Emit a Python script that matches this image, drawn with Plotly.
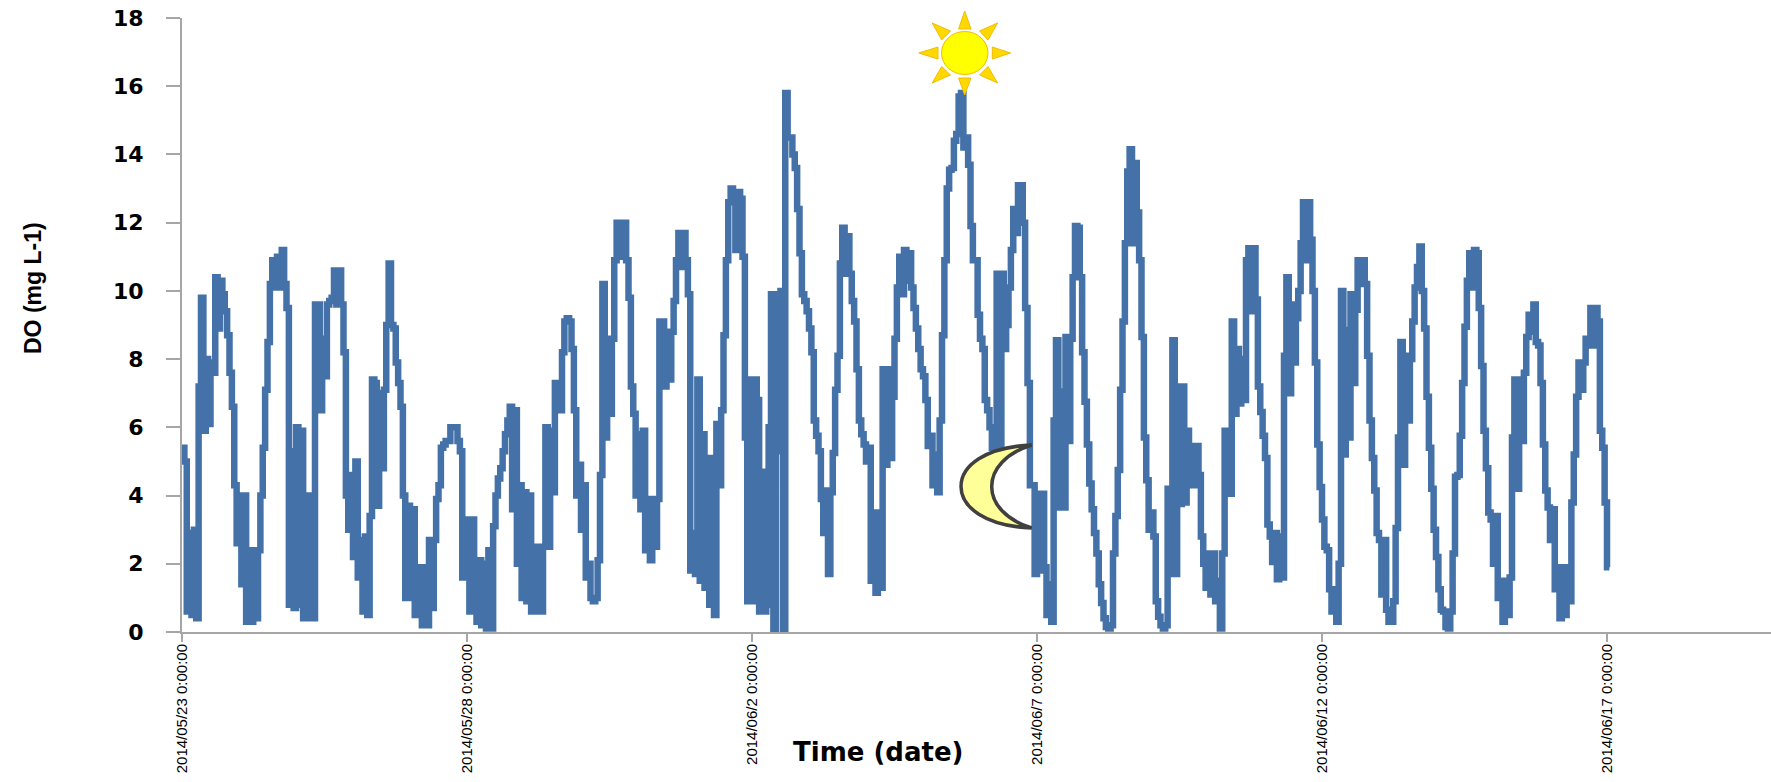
import pandas as pd
import plotly.graph_objects as go

# Dissolved oxygen, one value per hour, one list per day
do_0523 = [5.4,5.0,0.6,2.9,0.5,3.0,0.4,7.2,9.8,5.9,8.0,6.1,7.9,7.6,10.4,8.9,10.3,9.9,9.4,8.7,7.6,6.6,4.3,2.6]
do_0524 = [4.0,1.4,4.0,0.3,2.4,0.3,2.4,0.4,2.4,4.0,5.4,7.1,8.5,10.2,10.9,10.1,11.0,10.1,11.2,10.2,9.5,0.8,5.3,0.7]
do_0525 = [6.0,0.8,5.9,0.4,4.0,0.4,4.0,0.4,9.6,9.6,6.5,8.6,7.5,9.6,9.7,9.8,10.6,9.6,10.6,9.6,8.2,4.0,3.0,4.6]
do_0526 = [2.2,5.0,1.6,2.7,0.6,2.8,0.5,3.4,7.4,7.3,3.7,7.0,4.8,7.1,9.0,10.8,9.0,8.9,7.9,7.3,6.6,4.0,1.0,3.7]
do_0527 = [1.0,3.6,0.5,1.8,1.9,0.2,1.9,0.2,2.7,0.7,2.7,3.9,4.3,5.4,5.5,5.6,5.6,6.0,6.0,6.0,5.6,5.3,1.6,3.0]
do_0528 = [3.3,0.6,3.3,2.1,0.3,2.1,0.2,2.0,0.1,2.4,0.1,3.1,4.0,4.5,4.8,5.3,5.8,6.2,6.6,3.6,6.5,2.0,4.3,1.0]
do_0529 = [4.1,0.9,4.0,0.6,2.5,0.6,2.5,0.6,2.5,6.0,2.5,5.9,4.1,7.3,7.3,6.5,8.2,9.1,9.2,9.1,8.3,6.5,4.0,4.9]
do_0530 = [3.0,4.3,1.6,2.0,1.0,0.9,1.0,2.1,4.6,10.2,5.7,8.6,6.4,8.6,10.9,12.0,11.0,12.0,12.0,10.9,9.8,7.2,6.4,4.0]
do_0531 = [5.8,3.6,5.9,2.4,3.9,2.1,3.9,2.5,3.9,9.1,9.1,7.2,8.8,7.4,8.8,9.7,10.9,11.7,10.7,11.7,10.9,9.9,1.8,2.9]
do_0601 = [1.7,7.4,1.5,5.8,1.3,5.1,0.8,5.1,0.5,6.1,4.3,6.5,8.7,10.9,12.6,13.0,12.9,11.2,12.9,12.7,11.0,5.7,0.9,7.4]
do_0602 = [0.9,7.4,6.8,0.6,4.7,0.6,0.8,6.0,9.9,0.0,9.9,5.3,10.0,0.0,15.8,14.5,14.5,14.0,13.6,12.4,11.1,9.9,9.7,9.4]
do_0603 = [8.9,8.2,6.2,5.75,5.3,3.9,2.9,4.15,1.7,4.1,5.25,7.1,8.1,10.8,11.85,10.5,11.6,10.5,9.7,9.1,7.7,6.2,5.8,5.5]
do_0604 = [5.0,5.4,1.5,3.5,1.15,3.5,1.3,7.7,4.9,7.7,5.1,6.9,8.6,10.1,11.0,9.9,11.2,10.3,11.1,10.1,9.5,8.9,8.3,7.7]
do_0605 = [7.5,6.8,5.45,5.75,4.3,5.2,4.1,6.2,8.7,10.9,13.0,13.55,13.6,14.4,14.6,15.7,15.8,14.2,14.5,13.7,11.9,10.9,10.9,9.3]
do_0606 = [8.6,8.3,6.8,6.5,6.0,5.4,5.2,10.5,5.3,10.5,8.3,9.0,10.1,11.2,12.4,11.7,13.1,13.1,12.0,9.5,7.3,4.3,4.3,1.7]
do_0607 = [4.05,1.8,4.05,1.9,0.5,1.4,0.3,6.2,8.55,3.65,7.05,3.65,8.65,5.6,8.6,10.4,11.9,11.85,10.4,8.2,6.75,5.5,4.35,3.6]
do_0608 = [2.9,2.3,1.4,0.85,0.4,0.15,0.1,0.2,2.3,3.4,4.75,7.1,9.1,11.4,13.5,14.15,11.4,13.75,12.3,10.9,8.65,5.7,4.45,3.0]
do_0609 = [3.5,2.8,0.9,0.45,0.2,0.1,0.2,4.2,1.7,8.55,1.7,7.2,3.75,7.2,3.8,5.9,4.3,5.45,4.3,5.45,4.6,2.8,2.0,1.3]
do_0610 = [2.3,1.1,2.3,0.9,1.5,0.1,2.3,5.9,5.9,4.05,9.1,6.4,8.3,6.7,8.0,6.8,10.9,11.25,9.4,11.25,9.75,7.2,6.45,5.75]
do_0611 = [5.1,3.15,2.8,2.05,2.9,1.55,2.8,1.6,8.1,10.4,7.0,9.6,7.9,9.2,10.0,11.4,12.6,10.9,12.6,11.5,10.0,7.9,5.5,4.25]
do_0612 = [3.3,2.5,2.4,1.25,0.6,1.25,0.3,2.0,10.0,5.2,8.85,5.7,9.9,7.3,9.45,10.9,10.2,10.9,10.2,8.1,6.2,5.1,4.15,2.9]
do_0613 = [2.7,1.1,2.7,0.65,0.3,0.3,0.9,3.05,5.7,8.5,4.9,8.1,6.2,8.0,9.1,10.1,10.7,11.3,10.0,8.9,6.9,5.4,4.2,3.0]
do_0614 = [2.2,1.25,0.65,0.6,0.15,0.1,0.6,2.3,4.55,4.6,5.75,7.3,8.95,10.3,11.1,10.1,11.2,11.1,9.5,7.8,5.9,4.8,3.5,3.3]
do_0615 = [2.0,3.4,1.0,1.5,0.3,1.5,0.5,1.6,5.7,7.4,4.2,7.4,5.6,7.6,8.65,9.3,8.8,9.6,8.5,8.4,7.3,5.5,4.15,3.65]
do_0616 = [2.7,3.6,1.25,1.9,0.4,1.9,0.5,1.9,0.9,3.8,5.2,6.9,7.9,7.1,7.9,8.6,8.4,9.5,8.4,9.5,9.1,5.9,5.4,3.8]
do_0617 = [1.9,1.9]

do_values = (do_0523 + do_0524 + do_0525 + do_0526 + do_0527 + do_0528 + do_0529 +
             do_0530 + do_0531 + do_0601 + do_0602 + do_0603 + do_0604 + do_0605 +
             do_0606 + do_0607 + do_0608 + do_0609 + do_0610 + do_0611 + do_0612 +
             do_0613 + do_0614 + do_0615 + do_0616 + do_0617)
times = pd.date_range("2014-05-23", periods=len(do_values), freq="h")

tick_dates = ["2014-05-23", "2014-05-28", "2014-06-02", "2014-06-07", "2014-06-12", "2014-06-17"]
tick_labels = ["2014/05/23 0:00:00", "2014/05/28 0:00:00", "2014/06/2 0:00:00",
               "2014/06/7 0:00:00", "2014/06/12 0:00:00", "2014/06/17 0:00:00"]
y_ticks = list(range(0, 19, 2))

W, H = 1771, 782
L, T, B = 182, 18, 150
X_END = pd.Timestamp("2014-05-23") + pd.Timedelta(hours=(W - L) / 2.375)


def px(x):
    return (x - L) / (W - L)


def py(y):
    return 1 - (y - T) / (H - T - B)


def poly(points, fill, line, width=1):
    path = "M " + " L ".join(f"{px(a):.5f},{py(b):.5f}" for a, b in points) + " Z"
    return dict(type="path", xref="paper", yref="paper", path=path,
                fillcolor=fill, line=dict(color=line, width=width), layer="above")


RAY, RAY_EDGE = "#FFD800", "#F2BC00"
shapes = [
    poly([(964.7, 11), (958.6, 29), (971, 29)], RAY, RAY_EDGE),
    poly([(964.7, 95), (958.6, 78), (971, 78)], RAY, RAY_EDGE),
    poly([(918.8, 53), (938, 47), (938, 59)], RAY, RAY_EDGE),
    poly([(1010.6, 53), (992.3, 47), (992.3, 59)], RAY, RAY_EDGE),
    poly([(932.2, 23), (941.7, 40), (950.5, 31)], RAY, RAY_EDGE),
    poly([(997.6, 23), (988, 40), (979.6, 31)], RAY, RAY_EDGE),
    poly([(932.2, 83), (941.7, 66.5), (950.5, 75)], RAY, RAY_EDGE),
    poly([(997.6, 83), (988, 66.5), (979.6, 75)], RAY, RAY_EDGE),
    dict(type="circle", xref="paper", yref="paper", layer="above",
         x0=px(941.5), x1=px(988), y0=py(74.5), y1=py(31.5),
         fillcolor="#FFFF00", line=dict(color=RAY_EDGE, width=1)),
    dict(type="path", xref="paper", yref="paper", layer="above",
         path=(f"M {px(1031.7):.5f},{py(445):.5f} "
               f"C {px(985):.5f},{py(447):.5f} {px(961):.5f},{py(466):.5f} {px(961):.5f},{py(486.5):.5f} "
               f"C {px(961):.5f},{py(507):.5f} {px(985):.5f},{py(526):.5f} {px(1031.7):.5f},{py(528):.5f} "
               f"C {px(1006):.5f},{py(520):.5f} {px(991.7):.5f},{py(504):.5f} {px(991.7):.5f},{py(486.5):.5f} "
               f"C {px(991.7):.5f},{py(469):.5f} {px(1006):.5f},{py(453):.5f} {px(1031.7):.5f},{py(445):.5f} Z"),
         fillcolor="#FFFF99", line=dict(color="#404040", width=3.5)),
]

fig = go.Figure(go.Scatter(x=times, y=do_values, mode="lines",
                           line=dict(color="#4472A8", width=6.5, shape="hv"),
                           showlegend=False, cliponaxis=True))

fig.update_layout(
    width=W, height=H, autosize=False,
    margin=dict(l=L, r=0, t=T, b=B, pad=0),
    paper_bgcolor="white", plot_bgcolor="white",
    showlegend=False, shapes=shapes,
    xaxis=dict(type="date", range=[pd.Timestamp("2014-05-23"), X_END], automargin=False,
               tickmode="array", tickvals=tick_dates, ticktext=tick_labels,
               tickangle=-90, ticks="outside", ticklen=8, tickwidth=2,
               tickcolor="#A6A6A6", showline=True, linecolor="#A6A6A6", linewidth=2,
               showgrid=False, zeroline=False, ticklabelstandoff=-4,
               tickfont=dict(family="Liberation Sans", size=15, color="#000000")),
    yaxis=dict(range=[0, 18], tickmode="array", tickvals=y_ticks, automargin=False,
               ticks="outside", ticklen=14, tickwidth=2, tickcolor="#A6A6A6",
               showline=True, linecolor="#A6A6A6", linewidth=2,
               showgrid=False, zeroline=False, ticklabelstandoff=18,
               tickfont=dict(family="DejaVu Sans", size=22, color="#000000", weight="bold")),
    annotations=[
        dict(text="<b>Time (date)</b>", xref="paper", yref="paper", x=px(878), y=py(752),
             showarrow=False, xanchor="center", yanchor="middle",
             font=dict(family="DejaVu Sans", size=26, color="#000000")),
        dict(text="<b>DO (mg L-1)</b>", xref="paper", yref="paper", x=px(33), y=py(288),
             textangle=-90, showarrow=False, xanchor="center", yanchor="middle",
             font=dict(family="Liberation Sans", size=23, color="#000000")),
    ],
)

fig.write_html("out.html", config=dict(displayModeBar=False),
               post_script="document.body.style.margin='0';")
